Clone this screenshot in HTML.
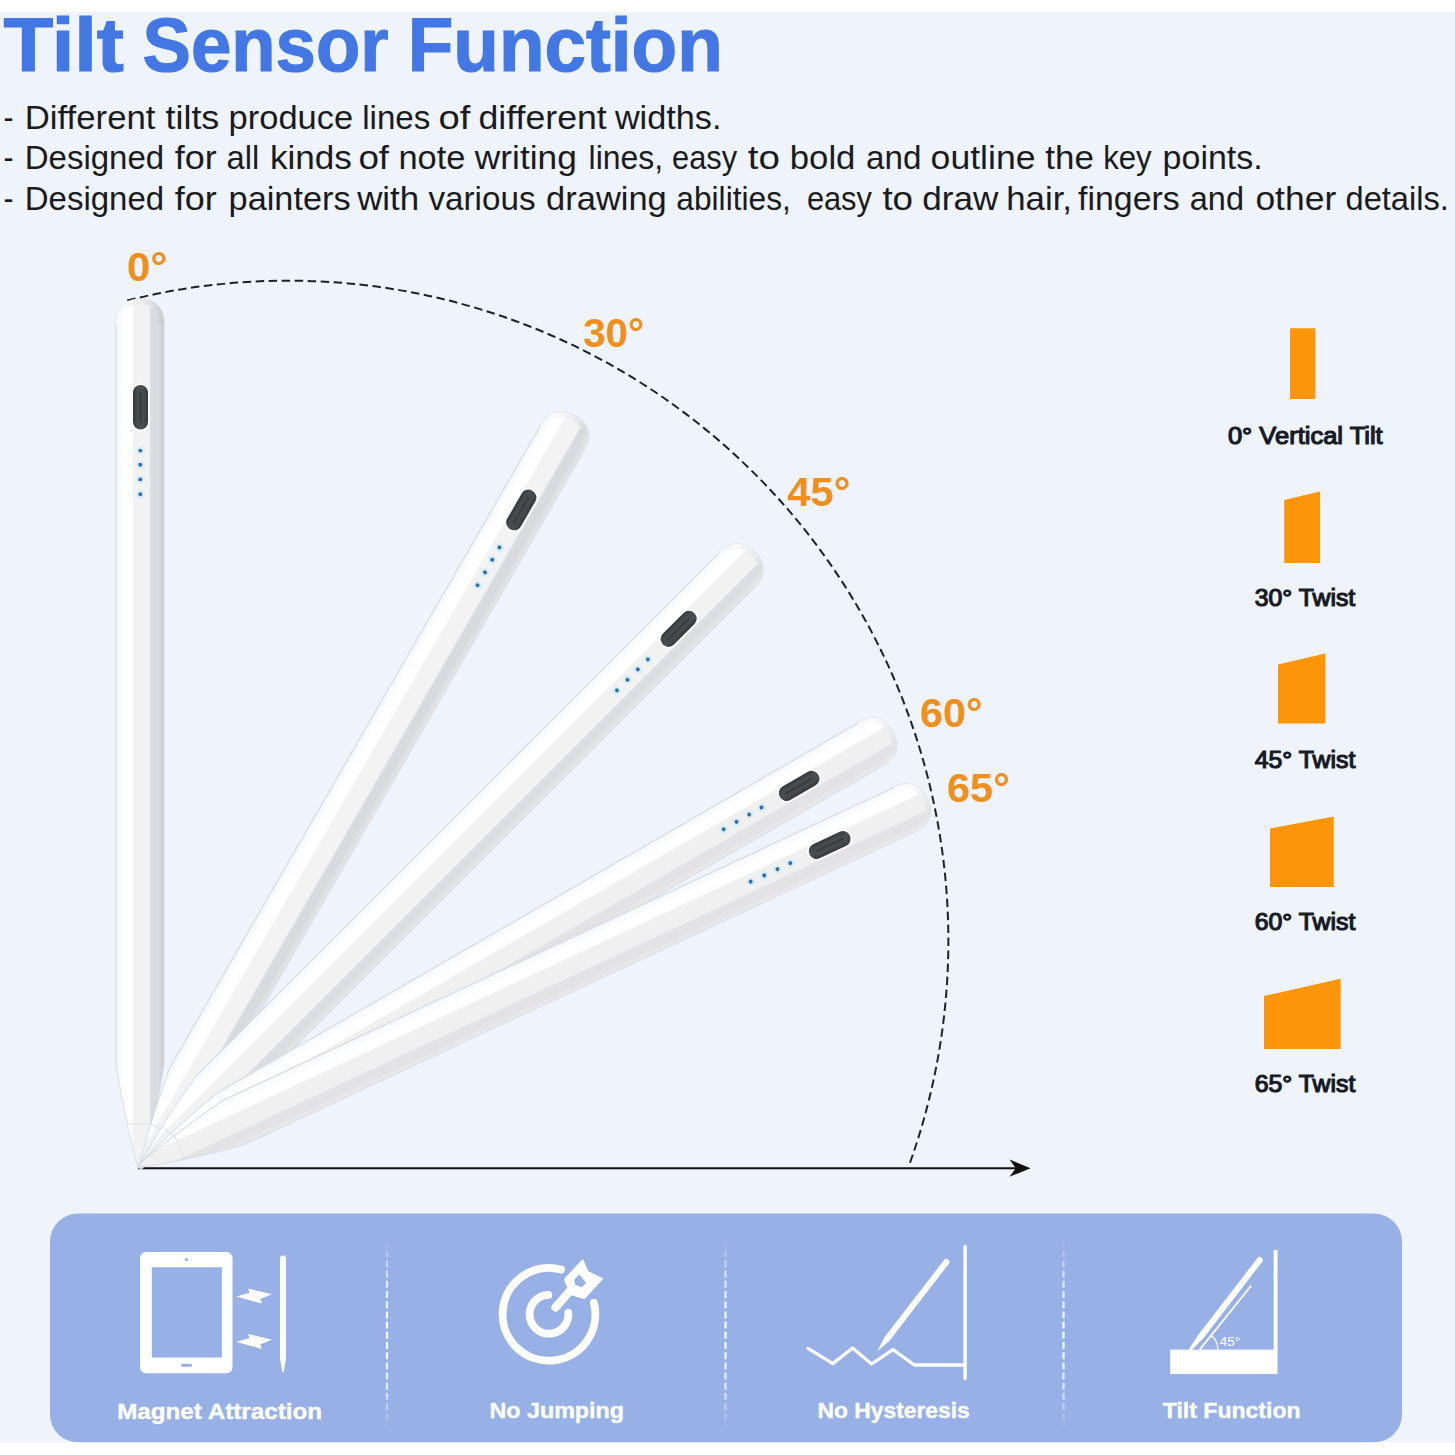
<!DOCTYPE html>
<html><head><meta charset="utf-8"><title>Tilt Sensor Function</title>
<style>
html,body{margin:0;padding:0;background:#ffffff;}
body{width:1455px;height:1455px;overflow:hidden;font-family:"Liberation Sans",sans-serif;}
svg{display:block;position:absolute;left:0;top:0;}
text{font-family:"Liberation Sans",sans-serif;}
</style></head><body>
<svg width="1455" height="1455" viewBox="0 0 1455 1455">
<defs>
<linearGradient id="btng" x1="0" y1="0" x2="1" y2="0">
<stop offset="0" stop-color="#35383a"/>
<stop offset="0.3" stop-color="#494c4e"/>
<stop offset="0.7" stop-color="#494c4e"/>
<stop offset="1" stop-color="#35383a"/>
</linearGradient>
<linearGradient id="divg" x1="0" y1="1238" x2="0" y2="1430" gradientUnits="userSpaceOnUse">
<stop offset="0" stop-color="#fff" stop-opacity="0"/>
<stop offset="0.22" stop-color="#fff" stop-opacity="0.7"/>
<stop offset="0.5" stop-color="#fff" stop-opacity="1"/>
<stop offset="0.78" stop-color="#fff" stop-opacity="0.7"/>
<stop offset="1" stop-color="#fff" stop-opacity="0"/>
</linearGradient>
</defs>

<rect x="0" y="0" width="1455" height="1455" fill="#ffffff"/>
<rect x="0" y="12" width="1455" height="1431" fill="#eff4fc"/>
<text x="3.4" y="71.4" font-size="75.6" font-weight="bold" fill="#4378e4" stroke="#4378e4" stroke-width="1.2" textLength="120.6" lengthAdjust="spacingAndGlyphs">Tilt</text>
<text x="142.6" y="71.4" font-size="75.6" font-weight="bold" fill="#4378e4" stroke="#4378e4" stroke-width="1.2" textLength="245.79999999999998" lengthAdjust="spacingAndGlyphs">Sensor</text>
<text x="407.7" y="71.4" font-size="75.6" font-weight="bold" fill="#4378e4" stroke="#4378e4" stroke-width="1.2" textLength="315.09999999999997" lengthAdjust="spacingAndGlyphs">Function</text>
<text x="3.5" y="128.7" font-size="33" fill="#191b20" textLength="10.0" lengthAdjust="spacingAndGlyphs">-</text>
<text x="24.7" y="128.7" font-size="33" fill="#191b20" textLength="130.8" lengthAdjust="spacingAndGlyphs">Different</text>
<text x="165.5" y="128.7" font-size="33" fill="#191b20" textLength="53.8" lengthAdjust="spacingAndGlyphs">tilts</text>
<text x="228.6" y="128.7" font-size="33" fill="#191b20" textLength="124.5" lengthAdjust="spacingAndGlyphs">produce</text>
<text x="362.2" y="128.7" font-size="33" fill="#191b20" textLength="68.2" lengthAdjust="spacingAndGlyphs">lines</text>
<text x="438.5" y="128.7" font-size="33" fill="#191b20" textLength="31.9" lengthAdjust="spacingAndGlyphs">of</text>
<text x="478.5" y="128.7" font-size="33" fill="#191b20" textLength="128.3" lengthAdjust="spacingAndGlyphs">different</text>
<text x="614.9" y="128.7" font-size="33" fill="#191b20" textLength="106.6" lengthAdjust="spacingAndGlyphs">widths.</text>
<text x="3.5" y="169.3" font-size="33" fill="#191b20" textLength="10.0" lengthAdjust="spacingAndGlyphs">-</text>
<text x="24.7" y="169.3" font-size="33" fill="#191b20" textLength="139.5" lengthAdjust="spacingAndGlyphs">Designed</text>
<text x="174.8" y="169.3" font-size="33" fill="#191b20" textLength="42.0" lengthAdjust="spacingAndGlyphs">for</text>
<text x="226.6" y="169.3" font-size="33" fill="#191b20" textLength="32.7" lengthAdjust="spacingAndGlyphs">all</text>
<text x="269.9" y="169.3" font-size="33" fill="#191b20" textLength="82.0" lengthAdjust="spacingAndGlyphs">kinds</text>
<text x="358.4" y="169.3" font-size="33" fill="#191b20" textLength="30.7" lengthAdjust="spacingAndGlyphs">of</text>
<text x="398.4" y="169.3" font-size="33" fill="#191b20" textLength="67.0" lengthAdjust="spacingAndGlyphs">note</text>
<text x="474.8" y="169.3" font-size="33" fill="#191b20" textLength="102.0" lengthAdjust="spacingAndGlyphs">writing</text>
<text x="588.6" y="169.3" font-size="33" fill="#191b20" textLength="74.5" lengthAdjust="spacingAndGlyphs">lines,</text>
<text x="672.1" y="169.3" font-size="33" fill="#191b20" textLength="65.1" lengthAdjust="spacingAndGlyphs">easy</text>
<text x="747.7" y="169.3" font-size="33" fill="#191b20" textLength="32.1" lengthAdjust="spacingAndGlyphs">to</text>
<text x="789.8" y="169.3" font-size="33" fill="#191b20" textLength="65.6" lengthAdjust="spacingAndGlyphs">bold</text>
<text x="866.0" y="169.3" font-size="33" fill="#191b20" textLength="55.4" lengthAdjust="spacingAndGlyphs">and</text>
<text x="930.6" y="169.3" font-size="33" fill="#191b20" textLength="104.9" lengthAdjust="spacingAndGlyphs">outline</text>
<text x="1045.3" y="169.3" font-size="33" fill="#191b20" textLength="48.6" lengthAdjust="spacingAndGlyphs">the</text>
<text x="1103.2" y="169.3" font-size="33" fill="#191b20" textLength="48.5" lengthAdjust="spacingAndGlyphs">key</text>
<text x="1162.6" y="169.3" font-size="33" fill="#191b20" textLength="100.1" lengthAdjust="spacingAndGlyphs">points.</text>
<text x="3.5" y="210.3" font-size="33" fill="#191b20" textLength="10.0" lengthAdjust="spacingAndGlyphs">-</text>
<text x="24.7" y="210.3" font-size="33" fill="#191b20" textLength="139.5" lengthAdjust="spacingAndGlyphs">Designed</text>
<text x="174.8" y="210.3" font-size="33" fill="#191b20" textLength="42.0" lengthAdjust="spacingAndGlyphs">for</text>
<text x="228.6" y="210.3" font-size="33" fill="#191b20" textLength="122.0" lengthAdjust="spacingAndGlyphs">painters</text>
<text x="357.2" y="210.3" font-size="33" fill="#191b20" textLength="62.0" lengthAdjust="spacingAndGlyphs">with</text>
<text x="428.5" y="210.3" font-size="33" fill="#191b20" textLength="107.0" lengthAdjust="spacingAndGlyphs">various</text>
<text x="546.1" y="210.3" font-size="33" fill="#191b20" textLength="120.7" lengthAdjust="spacingAndGlyphs">drawing</text>
<text x="676.3" y="210.3" font-size="33" fill="#191b20" textLength="114.5" lengthAdjust="spacingAndGlyphs">abilities,</text>
<text x="806.9" y="210.3" font-size="33" fill="#191b20" textLength="65.0" lengthAdjust="spacingAndGlyphs">easy</text>
<text x="882.4" y="210.3" font-size="33" fill="#191b20" textLength="30.7" lengthAdjust="spacingAndGlyphs">to</text>
<text x="922.3" y="210.3" font-size="33" fill="#191b20" textLength="76.1" lengthAdjust="spacingAndGlyphs">draw</text>
<text x="1006.2" y="210.3" font-size="33" fill="#191b20" textLength="65.8" lengthAdjust="spacingAndGlyphs">hair,</text>
<text x="1078.1" y="210.3" font-size="33" fill="#191b20" textLength="101.7" lengthAdjust="spacingAndGlyphs">fingers</text>
<text x="1189.8" y="210.3" font-size="33" fill="#191b20" textLength="54.2" lengthAdjust="spacingAndGlyphs">and</text>
<text x="1255.4" y="210.3" font-size="33" fill="#191b20" textLength="80.8" lengthAdjust="spacingAndGlyphs">other</text>
<text x="1345.5" y="210.3" font-size="33" fill="#191b20" textLength="103.3" lengthAdjust="spacingAndGlyphs">details.</text>
<path d="M127.3 300.5 A660.3 660.3 0 0 1 909 1165.5" fill="none" stroke="#1e2126" stroke-width="2" stroke-dasharray="8.5 4.5"/>
<path d="M138 1168.2 L1016 1168.2" stroke="#111" stroke-width="2" fill="none"/>
<path d="M1030.5 1168.2 L1009.5 1159.6 L1015.8 1168.2 L1009.5 1176.8 Z" fill="#111"/>
<g transform="translate(0.00 0.00) rotate(0 139.5 1168) translate(140.00 0) scale(1.0 1) translate(-140 0)"><linearGradient id="bg0" gradientUnits="userSpaceOnUse" x1="116" y1="0" x2="164" y2="0"><stop offset="0" stop-color="#dfe5ee"/><stop offset="0.035" stop-color="#f7f9fc"/><stop offset="0.13" stop-color="#fbfcfd"/><stop offset="0.15" stop-color="#ffffff"/><stop offset="0.33" stop-color="#ffffff"/><stop offset="0.36" stop-color="#f2f2f3"/><stop offset="0.69" stop-color="#f2f2f3"/><stop offset="0.73" stop-color="#dadbde"/><stop offset="0.88" stop-color="#dadbde"/><stop offset="1" stop-color="#c9cbcf"/></linearGradient><linearGradient id="cg0" gradientUnits="userSpaceOnUse" x1="116" y1="0" x2="164" y2="0"><stop offset="0" stop-color="#f6f8fb"/><stop offset="0.12" stop-color="#fafbfd"/><stop offset="0.4" stop-color="#eeeff1"/><stop offset="0.62" stop-color="#e7e8ea"/><stop offset="0.8" stop-color="#dadbde"/><stop offset="1" stop-color="#c9cbcf"/></linearGradient><path d="M116 323 C116 307 126 299 140 299 C154 299 164 307 164 323 L164 1064 C160 1090 150 1140 141 1168 L138 1168 C130 1140 120 1090 116 1064 Z" fill="url(#bg0)" stroke="#d5dae2" stroke-width="1" stroke-opacity="0.85"/><path d="M118.5 325 L118.5 323 C118.500 309 127 301.500 140 301.500 C153 301.500 161.500 309 161.500 323 L161.500 325" fill="none" stroke="url(#cg0)" stroke-width="5"/><path d="M128 1124 L148 1124" stroke="#e1e3e6" stroke-width="1.200" fill="none"/><rect x="131.500" y="383" width="18" height="48.500" rx="9" fill="#fdfdfd"/><rect x="133" y="385" width="15" height="44.500" rx="7.500" fill="url(#btng)"/><rect x="139.300" y="392" width="2.400" height="31" rx="1.200" fill="#3b3e40"/><circle cx="140.300" cy="450.6" r="4.400" fill="#dcedfa"/><circle cx="140.300" cy="450.6" r="1.950" fill="#2c72ae"/><circle cx="140.300" cy="464.8" r="4.400" fill="#dcedfa"/><circle cx="140.300" cy="464.8" r="1.950" fill="#2c72ae"/><circle cx="140.300" cy="479.4" r="4.400" fill="#dcedfa"/><circle cx="140.300" cy="479.4" r="1.950" fill="#2c72ae"/><circle cx="140.300" cy="494.3" r="4.400" fill="#dcedfa"/><circle cx="140.300" cy="494.3" r="1.950" fill="#2c72ae"/></g>
<g transform="translate(0.00 0.00) rotate(30 139.5 1168) translate(140.60 0) scale(1.05 1) translate(-140 0)"><linearGradient id="bg30" gradientUnits="userSpaceOnUse" x1="116" y1="0" x2="164" y2="0"><stop offset="0" stop-color="#dfe5ee"/><stop offset="0.035" stop-color="#f7f9fc"/><stop offset="0.13" stop-color="#fbfcfd"/><stop offset="0.15" stop-color="#ffffff"/><stop offset="0.33" stop-color="#ffffff"/><stop offset="0.36" stop-color="#f3f3f4"/><stop offset="0.69" stop-color="#f3f3f4"/><stop offset="0.73" stop-color="#d9dadd"/><stop offset="0.88" stop-color="#d9dadd"/><stop offset="1" stop-color="#e6e7e9"/></linearGradient><linearGradient id="cg30" gradientUnits="userSpaceOnUse" x1="116" y1="0" x2="164" y2="0"><stop offset="0" stop-color="#f6f8fb"/><stop offset="0.12" stop-color="#fafbfd"/><stop offset="0.4" stop-color="#eeeff1"/><stop offset="0.62" stop-color="#e7e8ea"/><stop offset="0.8" stop-color="#d9dadd"/><stop offset="1" stop-color="#e6e7e9"/></linearGradient><path d="M116 323 C116 307 126 299 140 299 C154 299 164 307 164 323 L164 1064 C160 1090 150 1140 141 1168 L138 1168 C130 1140 120 1090 116 1064 Z" fill="url(#bg30)" stroke="#d5dae2" stroke-width="1" stroke-opacity="0.85"/><path d="M118.5 325 L118.5 323 C118.500 309 127 301.500 140 301.500 C153 301.500 161.500 309 161.500 323 L161.500 325" fill="none" stroke="url(#cg30)" stroke-width="5"/><path d="M128 1124 L148 1124" stroke="#e1e3e6" stroke-width="1.200" fill="none"/><rect x="131.500" y="383" width="18" height="48.500" rx="9" fill="#fdfdfd"/><rect x="133" y="385" width="15" height="44.500" rx="7.500" fill="url(#btng)"/><rect x="139.300" y="392" width="2.400" height="31" rx="1.200" fill="#3b3e40"/><circle cx="140.300" cy="450.6" r="4.400" fill="#dcedfa"/><circle cx="140.300" cy="450.6" r="1.950" fill="#2c72ae"/><circle cx="140.300" cy="464.8" r="4.400" fill="#dcedfa"/><circle cx="140.300" cy="464.8" r="1.950" fill="#2c72ae"/><circle cx="140.300" cy="479.4" r="4.400" fill="#dcedfa"/><circle cx="140.300" cy="479.4" r="1.950" fill="#2c72ae"/><circle cx="140.300" cy="494.3" r="4.400" fill="#dcedfa"/><circle cx="140.300" cy="494.3" r="1.950" fill="#2c72ae"/></g>
<g transform="translate(0.50 -1.90) rotate(45 139.5 1168) translate(140.00 0) scale(1.03 1) translate(-140 0)"><linearGradient id="bg45" gradientUnits="userSpaceOnUse" x1="116" y1="0" x2="164" y2="0"><stop offset="0" stop-color="#dfe5ee"/><stop offset="0.035" stop-color="#f7f9fc"/><stop offset="0.13" stop-color="#fbfcfd"/><stop offset="0.15" stop-color="#ffffff"/><stop offset="0.33" stop-color="#ffffff"/><stop offset="0.36" stop-color="#f2f2f3"/><stop offset="0.69" stop-color="#f2f2f3"/><stop offset="0.73" stop-color="#dcdde0"/><stop offset="0.88" stop-color="#dcdde0"/><stop offset="1" stop-color="#e7e8ea"/></linearGradient><linearGradient id="cg45" gradientUnits="userSpaceOnUse" x1="116" y1="0" x2="164" y2="0"><stop offset="0" stop-color="#f6f8fb"/><stop offset="0.12" stop-color="#fafbfd"/><stop offset="0.4" stop-color="#eeeff1"/><stop offset="0.62" stop-color="#e7e8ea"/><stop offset="0.8" stop-color="#dcdde0"/><stop offset="1" stop-color="#e7e8ea"/></linearGradient><path d="M116 323 C116 307 126 299 140 299 C154 299 164 307 164 323 L164 1064 C160 1090 150 1140 141 1168 L138 1168 C130 1140 120 1090 116 1064 Z" fill="url(#bg45)" stroke="#d5dae2" stroke-width="1" stroke-opacity="0.85"/><path d="M118.5 325 L118.5 323 C118.500 309 127 301.500 140 301.500 C153 301.500 161.500 309 161.500 323 L161.500 325" fill="none" stroke="url(#cg45)" stroke-width="5"/><path d="M128 1124 L148 1124" stroke="#e1e3e6" stroke-width="1.200" fill="none"/><rect x="131.500" y="383" width="18" height="48.500" rx="9" fill="#fdfdfd"/><rect x="133" y="385" width="15" height="44.500" rx="7.500" fill="url(#btng)"/><rect x="139.300" y="392" width="2.400" height="31" rx="1.200" fill="#3b3e40"/><circle cx="140.300" cy="450.6" r="4.400" fill="#dcedfa"/><circle cx="140.300" cy="450.6" r="1.950" fill="#2c72ae"/><circle cx="140.300" cy="464.8" r="4.400" fill="#dcedfa"/><circle cx="140.300" cy="464.8" r="1.950" fill="#2c72ae"/><circle cx="140.300" cy="479.4" r="4.400" fill="#dcedfa"/><circle cx="140.300" cy="479.4" r="1.950" fill="#2c72ae"/><circle cx="140.300" cy="494.3" r="4.400" fill="#dcedfa"/><circle cx="140.300" cy="494.3" r="1.950" fill="#2c72ae"/></g>
<g transform="translate(0.30 -2.60) rotate(60 139.5 1168) translate(140.00 0) scale(1.03 1) translate(-140 0)"><linearGradient id="bg60" gradientUnits="userSpaceOnUse" x1="116" y1="0" x2="164" y2="0"><stop offset="0" stop-color="#dfe5ee"/><stop offset="0.035" stop-color="#f7f9fc"/><stop offset="0.13" stop-color="#fbfcfd"/><stop offset="0.15" stop-color="#ffffff"/><stop offset="0.33" stop-color="#ffffff"/><stop offset="0.36" stop-color="#f0f0f1"/><stop offset="0.69" stop-color="#f0f0f1"/><stop offset="0.73" stop-color="#e3e3e5"/><stop offset="0.88" stop-color="#e3e3e5"/><stop offset="1" stop-color="#ebebed"/></linearGradient><linearGradient id="cg60" gradientUnits="userSpaceOnUse" x1="116" y1="0" x2="164" y2="0"><stop offset="0" stop-color="#f6f8fb"/><stop offset="0.12" stop-color="#fafbfd"/><stop offset="0.4" stop-color="#eeeff1"/><stop offset="0.62" stop-color="#e7e8ea"/><stop offset="0.8" stop-color="#e3e3e5"/><stop offset="1" stop-color="#ebebed"/></linearGradient><path d="M116 323 C116 307 126 299 140 299 C154 299 164 307 164 323 L164 1064 C160 1090 150 1140 141 1168 L138 1168 C130 1140 120 1090 116 1064 Z" fill="url(#bg60)" stroke="#d5dae2" stroke-width="1" stroke-opacity="0.85"/><path d="M118.5 325 L118.5 323 C118.500 309 127 301.500 140 301.500 C153 301.500 161.500 309 161.500 323 L161.500 325" fill="none" stroke="url(#cg60)" stroke-width="5"/><path d="M128 1124 L148 1124" stroke="#e1e3e6" stroke-width="1.200" fill="none"/><rect x="131.500" y="383" width="18" height="48.500" rx="9" fill="#fdfdfd"/><rect x="133" y="385" width="15" height="44.500" rx="7.500" fill="url(#btng)"/><rect x="139.300" y="392" width="2.400" height="31" rx="1.200" fill="#3b3e40"/><circle cx="140.300" cy="450.6" r="4.400" fill="#dcedfa"/><circle cx="140.300" cy="450.6" r="1.950" fill="#2c72ae"/><circle cx="140.300" cy="464.8" r="4.400" fill="#dcedfa"/><circle cx="140.300" cy="464.8" r="1.950" fill="#2c72ae"/><circle cx="140.300" cy="479.4" r="4.400" fill="#dcedfa"/><circle cx="140.300" cy="479.4" r="1.950" fill="#2c72ae"/><circle cx="140.300" cy="494.3" r="4.400" fill="#dcedfa"/><circle cx="140.300" cy="494.3" r="1.950" fill="#2c72ae"/></g>
<g transform="translate(0.30 -2.40) rotate(65 139.5 1168) translate(140.00 0) scale(1.03 1) translate(-140 0)"><linearGradient id="bg65" gradientUnits="userSpaceOnUse" x1="116" y1="0" x2="164" y2="0"><stop offset="0" stop-color="#dfe5ee"/><stop offset="0.035" stop-color="#f7f9fc"/><stop offset="0.13" stop-color="#fbfcfd"/><stop offset="0.15" stop-color="#ffffff"/><stop offset="0.33" stop-color="#ffffff"/><stop offset="0.36" stop-color="#f0f0f1"/><stop offset="0.69" stop-color="#f0f0f1"/><stop offset="0.73" stop-color="#e3e3e5"/><stop offset="0.88" stop-color="#e3e3e5"/><stop offset="1" stop-color="#ebebed"/></linearGradient><linearGradient id="cg65" gradientUnits="userSpaceOnUse" x1="116" y1="0" x2="164" y2="0"><stop offset="0" stop-color="#f6f8fb"/><stop offset="0.12" stop-color="#fafbfd"/><stop offset="0.4" stop-color="#eeeff1"/><stop offset="0.62" stop-color="#e7e8ea"/><stop offset="0.8" stop-color="#e3e3e5"/><stop offset="1" stop-color="#ebebed"/></linearGradient><path d="M116 323 C116 307 126 299 140 299 C154 299 164 307 164 323 L164 1064 C160 1090 150 1140 141 1168 L138 1168 C130 1140 120 1090 116 1064 Z" fill="url(#bg65)" stroke="#d5dae2" stroke-width="1" stroke-opacity="0.85"/><path d="M118.5 325 L118.5 323 C118.500 309 127 301.500 140 301.500 C153 301.500 161.500 309 161.500 323 L161.500 325" fill="none" stroke="url(#cg65)" stroke-width="5"/><path d="M128 1124 L148 1124" stroke="#e1e3e6" stroke-width="1.200" fill="none"/><rect x="131.500" y="383" width="18" height="48.500" rx="9" fill="#fdfdfd"/><rect x="133" y="385" width="15" height="44.500" rx="7.500" fill="url(#btng)"/><rect x="139.300" y="392" width="2.400" height="31" rx="1.200" fill="#3b3e40"/><circle cx="140.300" cy="450.6" r="4.400" fill="#dcedfa"/><circle cx="140.300" cy="450.6" r="1.950" fill="#2c72ae"/><circle cx="140.300" cy="464.8" r="4.400" fill="#dcedfa"/><circle cx="140.300" cy="464.8" r="1.950" fill="#2c72ae"/><circle cx="140.300" cy="479.4" r="4.400" fill="#dcedfa"/><circle cx="140.300" cy="479.4" r="1.950" fill="#2c72ae"/><circle cx="140.300" cy="494.3" r="4.400" fill="#dcedfa"/><circle cx="140.300" cy="494.3" r="1.950" fill="#2c72ae"/></g>
<text x="127.1" y="281.3" font-size="40.5" font-weight="bold" fill="#f08f1a" textLength="40.1" lengthAdjust="spacingAndGlyphs">0°</text>
<text x="583.2" y="346.5" font-size="40.5" font-weight="bold" fill="#f08f1a" textLength="60.9" lengthAdjust="spacingAndGlyphs">30°</text>
<text x="787.3" y="506.4" font-size="40.5" font-weight="bold" fill="#f08f1a" textLength="63.0" lengthAdjust="spacingAndGlyphs">45°</text>
<text x="920.1" y="726.8" font-size="40.5" font-weight="bold" fill="#f08f1a" textLength="62.3" lengthAdjust="spacingAndGlyphs">60°</text>
<text x="947.0" y="801.8" font-size="40.5" font-weight="bold" fill="#f08f1a" textLength="62.8" lengthAdjust="spacingAndGlyphs">65°</text>
<polygon points="1290.0,328.3 1315.3,328.3 1315.3,399.0 1290.0,399.0" fill="#fc950a"/>
<polygon points="1284.2,500.0 1320.0,491.6 1320.0,563.0 1284.2,563.0" fill="#fc950a"/>
<polygon points="1278.0,664.4 1325.4,653.4 1325.4,723.5 1278.0,723.5" fill="#fc950a"/>
<polygon points="1270.0,828.6 1333.7,816.6 1333.7,887.0 1270.0,887.0" fill="#fc950a"/>
<polygon points="1264.0,996.0 1340.6,978.8 1340.6,1049.0 1264.0,1049.0" fill="#fc950a"/>
<text x="1227.9" y="443.5" font-size="23.5" fill="#161b25" stroke="#161b25" stroke-width="1.15" textLength="154.8" lengthAdjust="spacingAndGlyphs">0° Vertical Tilt</text>
<text x="1254.8" y="605.7" font-size="23.5" fill="#161b25" stroke="#161b25" stroke-width="1.15" textLength="100.4" lengthAdjust="spacingAndGlyphs">30° Twist</text>
<text x="1254.7" y="768" font-size="23.5" fill="#161b25" stroke="#161b25" stroke-width="1.15" textLength="100.6" lengthAdjust="spacingAndGlyphs">45° Twist</text>
<text x="1254.7" y="930" font-size="23.5" fill="#161b25" stroke="#161b25" stroke-width="1.15" textLength="100.6" lengthAdjust="spacingAndGlyphs">60° Twist</text>
<text x="1254.7" y="1092.2" font-size="23.5" fill="#161b25" stroke="#161b25" stroke-width="1.15" textLength="100.6" lengthAdjust="spacingAndGlyphs">65° Twist</text>
<rect x="50" y="1213.5" width="1352" height="229" rx="28" ry="28" fill="#97b0e6"/>
<path d="M387 1240 L387 1432" stroke="url(#divg)" stroke-width="2.2" stroke-dasharray="7 3.2" fill="none" style="--a:1"/>
<path d="M725.5 1240 L725.5 1432" stroke="url(#divg)" stroke-width="2.2" stroke-dasharray="7 3.2" fill="none" style="--a:1"/>
<path d="M1063.5 1240 L1063.5 1432" stroke="url(#divg)" stroke-width="2.2" stroke-dasharray="7 3.2" fill="none" style="--a:1"/>

<g fill="#ffffff" stroke="none">
<path fill-rule="evenodd" d="M146 1252 H226.500 a6 6 0 0 1 6 6 V1367.2 a6 6 0 0 1 -6 6 H146 a6 6 0 0 1 -6 -6 V1258 a6 6 0 0 1 6 -6 Z M151.800 1267.300 V1357.600 H221.900 V1267.300 Z M186.500 1258 a1.600 1.600 0 1 0 0.010 0 Z M182.500 1363.800 a1.500 1.500 0 0 0 0 3 h8 a1.500 1.500 0 0 0 0 -3 Z"/>
<path d="M236.300 1296.500 L249.600 1292.700 L248.100 1288.500 L271.900 1294.300 L260.100 1299.100 L262 1303.600 Z"/>
<path d="M236.300 1341.900 L249.600 1338.100 L248.100 1333.900 L271.900 1339.700 L260.100 1344.500 L262 1349 Z"/>
<path d="M280 1258.500 a3 3 0 0 1 6 0 V1359 L283.600 1372 h-1.200 L280 1359 Z"/>
</g>
<g fill="none" stroke="#ffffff" stroke-width="7.800" stroke-linecap="round" stroke-linejoin="round">
<path d="M561.0 1269.5 A46.400 46.400 0 1 0 593.9 1302.7"/>
<path d="M548.3 1294.9 A19.400 19.400 0 1 0 568.3 1312.6"/>
<path d="M555.500 1307.500 L572 1288.500" stroke-width="8.200"/>
</g>
<path fill="#ffffff" stroke="#ffffff" stroke-width="1.2" stroke-linejoin="round" fill-rule="evenodd" d="M582.700 1260 L588 1271.800 L602.500 1278.700 L584.200 1298.500 L570.500 1294.500 L564.500 1279.300 Z M579.400 1273.700 L586.900 1282.800 L581.900 1287.800 L574.500 1285.300 L573.700 1279.500 Z"/>
<g fill="none" stroke="#ffffff" stroke-linecap="round" stroke-linejoin="round">
<path d="M965.100 1246.500 V1378.500" stroke-width="3.400"/>
<path d="M808 1348.400 L832.800 1363.600 L852.600 1348 L871.500 1364 L893 1349.600 L914.400 1365 H965.100" stroke-width="3.300"/>
</g>
<path fill="#ffffff" d="M877.300 1351.200 L884.500 1337.300 L943.900 1260.200 a3 3 0 0 1 4.800 3.700 L889.300 1341 Z"/>
<rect x="1170.200" y="1349.600" width="107.300" height="24.400" fill="#ffffff"/>
<rect x="1273.700" y="1250" width="3.800" height="101" fill="#ffffff"/>
<path fill="#ffffff" d="M1188.500 1349.800 L1198.400 1334.700 L1257.300 1258.200 a3 3 0 0 1 4.800 3.700 L1203.200 1338.400 L1192 1349.800 Z"/>
<path d="M1199.900 1349.400 L1251.100 1285.800" stroke="#ffffff" stroke-width="1.800" fill="none"/>
<path d="M1217.900 1349.400 A18 18 0 0 0 1211.200 1335.400" stroke="#ffffff" stroke-width="1.300" fill="none"/>
<text x="1219.700" y="1345.600" font-size="12.500" fill="#ffffff" textLength="20.500" lengthAdjust="spacingAndGlyphs">45°</text>

<text x="117.2" y="1419" font-size="22.8" font-weight="bold" fill="#ffffff" stroke="#ffffff" stroke-width="0.4" textLength="204.8" lengthAdjust="spacingAndGlyphs">Magnet Attraction</text>
<text x="489.5" y="1418.3" font-size="22.8" font-weight="bold" fill="#ffffff" stroke="#ffffff" stroke-width="0.4" textLength="134.5" lengthAdjust="spacingAndGlyphs">No Jumping</text>
<text x="817.6" y="1418.3" font-size="22.8" font-weight="bold" fill="#ffffff" stroke="#ffffff" stroke-width="0.4" textLength="152.1" lengthAdjust="spacingAndGlyphs">No Hysteresis</text>
<text x="1162.8" y="1418.3" font-size="22.8" font-weight="bold" fill="#ffffff" stroke="#ffffff" stroke-width="0.4" textLength="137.8" lengthAdjust="spacingAndGlyphs">Tilt Function</text>
<rect x="0" y="1442.5" width="1455" height="13" fill="#ffffff"/>
</svg></body></html>
